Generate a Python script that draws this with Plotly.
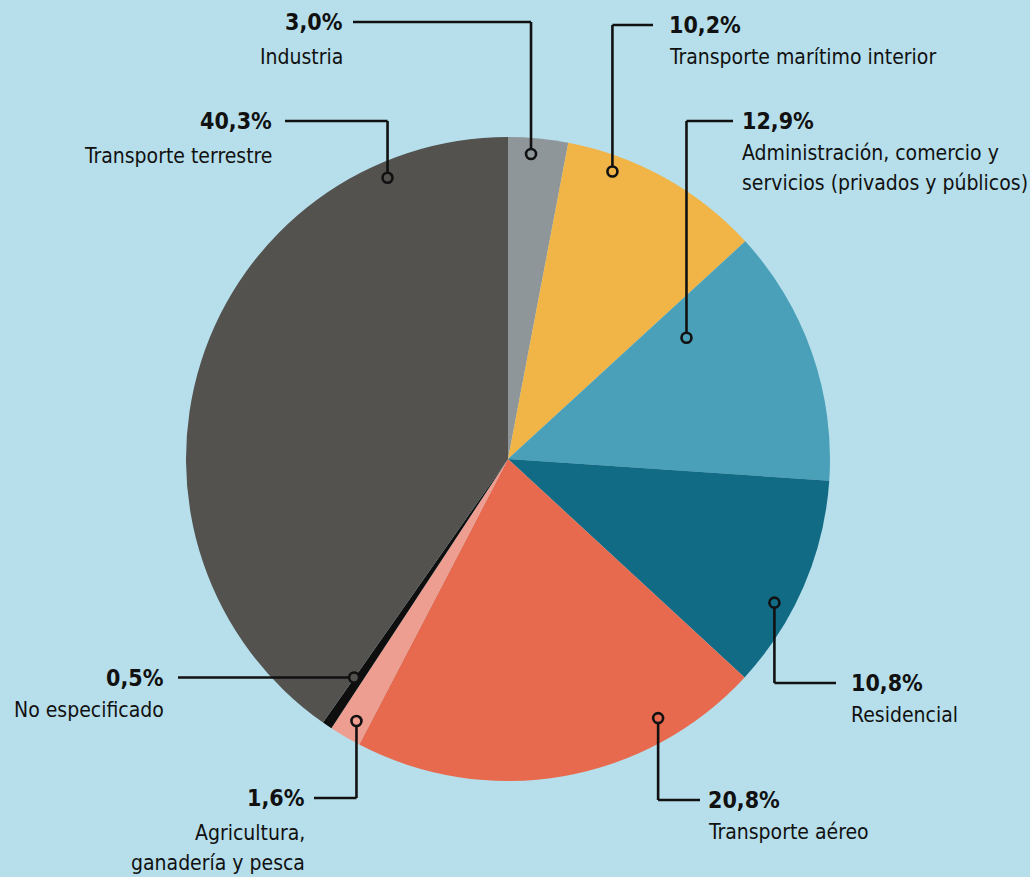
import math
import plotly.graph_objects as go

# ---- data ----
categories = ["Industria", "Transporte marítimo interior",
              "Administración, comercio y servicios (privados y públicos)",
              "Residencial", "Transporte aéreo", "Agricultura, ganadería y pesca",
              "No especificado", "Transporte terrestre"]
values = [3.0, 10.2, 12.9, 10.8, 20.8, 1.6, 0.5, 40.3]
pct_labels = ["3,0%", "10,2%", "12,9%", "10,8%", "20,8%", "1,6%", "0,5%", "40,3%"]
name_lines = [["Industria"], ["Transporte marítimo interior"],
              ["Administración, comercio y", "servicios (privados y públicos)"],
              ["Residencial"], ["Transporte aéreo"],
              ["Agricultura,", "ganadería y pesca"],
              ["No especificado"], ["Transporte terrestre"]]
colors = ["#8f969a", "#f1b446", "#4ba0b9", "#126b85", "#e76a4f", "#ee9e90", "#0e0e0e", "#53524f"]

# ---- layout constants (pixels in 1030x877 page) ----
W, H = 1030, 877
CX, CY, R = 508, 459, 322
# position of marker within slice (fraction of slice angle) and radius factor
dot_frac = [0.40, 0.25, 0.18, 0.63, 0.23, 0.44, 1.05, 0.84]
dot_rad = [0.95, 0.95, 0.67, 0.94, 0.93, 0.94, 0.83, 0.95]
dot_fill_idx = [0, 1, 2, 3, 4, 5, 7, 7]
# leader: 'v' = vertical then horizontal; 'h' = horizontal only
leader_kind = ["v", "v", "v", "v", "v", "v", "h", "v"]
elbow_y = [22, 25, 121, 683, 800, 798, 677, 121]
end_x = [353, 653, 733, 836, 700, 314, 178, 285]
text_side = ["right", "left", "left", "left", "left", "right", "right", "right"]
text_x = [345, 667, 740, 849, 706, 307, 166, 274]
first_gap = [35, 32, 32, 32, 32, 35, 32, 35]
LINE_GAP = 30
FONT = "DejaVu Sans Condensed, Liberation Sans Narrow, Roboto Condensed, Arial Narrow, sans-serif"
FS = 21


def px(x):
    return x / W


def py(y):
    return 1 - y / H


fig = go.Figure(go.Pie(
    labels=categories, values=values, sort=False, direction="clockwise",
    rotation=0, marker=dict(colors=colors, line=dict(width=0)),
    textinfo="none", hoverinfo="label+percent", showlegend=False,
    domain=dict(x=[px(CX - R), px(CX + R)], y=[py(CY + R), py(CY - R)]),
))

total = sum(values)
shapes = []
annotations = []
cum = 0.0
for i, v in enumerate(values):
    ang = 2 * math.pi * (cum + v * dot_frac[i]) / total
    cum += v
    dx = CX + R * dot_rad[i] * math.sin(ang)
    dy = CY - R * dot_rad[i] * math.cos(ang)
    lw = 2.6
    if leader_kind[i] == "v":
        y0 = dy - 5 if elbow_y[i] < dy else dy + 5
        shapes.append(dict(type="line", xref="paper", yref="paper",
                           x0=px(dx), y0=py(y0), x1=px(dx), y1=py(elbow_y[i]),
                           line=dict(color="#111", width=lw)))
        shapes.append(dict(type="line", xref="paper", yref="paper",
                           x0=px(dx), y0=py(elbow_y[i]), x1=px(end_x[i]), y1=py(elbow_y[i]),
                           line=dict(color="#111", width=lw)))
        ty = elbow_y[i]
    else:
        sx = dx - 5 if end_x[i] < dx else dx + 5
        shapes.append(dict(type="line", xref="paper", yref="paper",
                           x0=px(sx), y0=py(dy), x1=px(end_x[i]), y1=py(dy),
                           line=dict(color="#111", width=lw)))
        ty = dy
    shapes.append(dict(type="circle", xref="paper", yref="paper",
                       x0=px(dx - 5), x1=px(dx + 5), y0=py(dy + 5), y1=py(dy - 5),
                       line=dict(color="#111", width=lw), fillcolor=colors[dot_fill_idx[i]]))
    xa = "right" if text_side[i] == "right" else "left"
    annotations.append(dict(xref="paper", yref="paper", x=px(text_x[i]), y=py(ty),
                            xanchor=xa, yanchor="middle", showarrow=False,
                            text="<b>" + pct_labels[i] + "</b>",
                            font=dict(family=FONT, size=FS + 2, color="#111")))
    for k, line in enumerate(name_lines[i]):
        annotations.append(dict(xref="paper", yref="paper", x=px(text_x[i]),
                                y=py(ty + first_gap[i] + k * LINE_GAP),
                                xanchor=xa, yanchor="middle", showarrow=False,
                                text=line,
                                font=dict(family=FONT, size=FS, color="#111")))

fig.update_layout(
    width=W, height=H, margin=dict(l=0, r=0, t=0, b=0),
    paper_bgcolor="#b6dfeb", plot_bgcolor="#b6dfeb",
    shapes=shapes, annotations=annotations,
)

fig.write_html("out.html", config={"displayModeBar": False},
               post_script="document.body.style.margin='0';")
